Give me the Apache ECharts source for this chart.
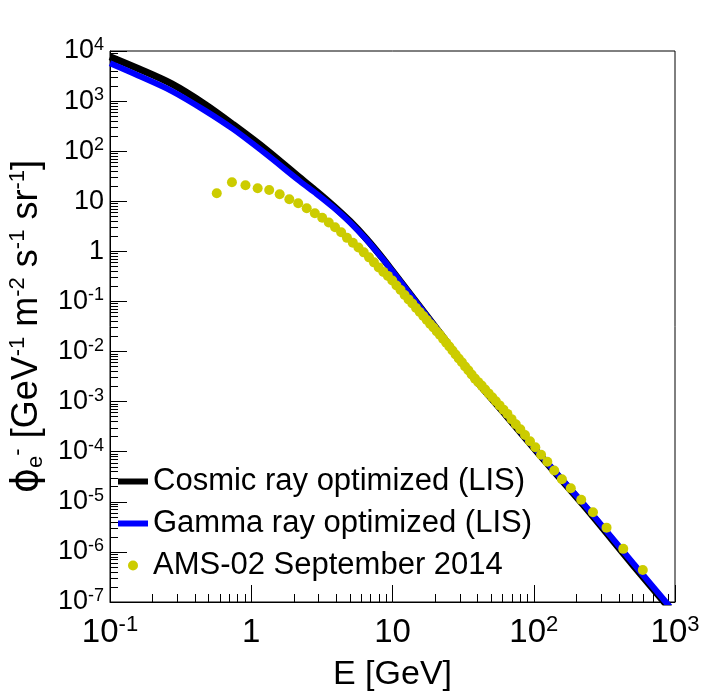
<!DOCTYPE html>
<html>
<head>
<meta charset="utf-8">
<script src="https://cdn.jsdelivr.net/npm/echarts@6/dist/echarts.min.js"></script>
<style>
  html, body { margin: 0; padding: 0; background: #fff; }
  #chart { width: 716px; height: 692px; }
</style>
</head>
<body>
<div id="chart"></div>
<script>
// model curves, energies in GeV
const lineEnergy = [0.1, 0.158, 0.274, 0.471, 0.746, 1.29, 2.21, 2.90, 3.81, 5.0, 6.56, 8.61,
    10.0, 21.7, 37.3, 64.4, 110.7, 224, 507, 873, 1000];
const cosmicFlux = [7690, 4470, 2200, 860, 339, 105, 29.5, 15.8, 8.13, 3.98, 1.76, 0.70,
    0.403, 0.0232, 3.09e-3, 5.13e-4, 8.51e-5, 8.71e-6, 5.37e-7, 8.71e-8, 5.5e-8];
const gammaFlux = [5675, 3240, 1585, 646, 275, 85.1, 25.1, 14.1, 7.59, 3.80, 1.70, 0.684,
    0.398, 0.0234, 3.16e-3, 5.37e-4, 8.91e-5, 9.33e-6, 5.89e-7, 9.55e-8, 6.03e-8];

// AMS-02 points
const amsEnergy = [0.57, 0.73, 0.91, 1.11, 1.34, 1.59, 1.86, 2.15, 2.47, 2.82, 3.18, 3.54,
    3.92, 4.33, 4.76, 5.24, 5.74, 6.26, 6.82, 7.39, 7.99, 8.62, 9.28, 9.96, 10.67, 11.41,
    12.19, 12.99, 13.82, 14.69, 15.59, 16.52, 17.48, 18.48, 19.51, 20.58, 21.68, 22.83,
    24.01, 25.25, 26.57, 27.96, 29.43, 31.0, 32.66, 34.43, 36.32, 38.34, 40.48, 42.79,
    45.27, 47.93, 50.81, 53.93, 57.33, 61.04, 65.13, 69.64, 74.66, 80.31, 86.71, 94.05,
    102.6, 112.7, 124.8, 139.6, 158.3, 182.9, 216.8, 262.6, 327.6, 430.1, 591.6];
const amsFlux = [14.5, 24.0, 20.9, 18.2, 16.8, 13.8, 11.0, 9.12, 7.24, 5.75, 4.68, 3.76,
    3.02, 2.40, 1.86, 1.48, 1.19, 0.955, 0.759, 0.603, 0.479, 0.389, 0.324, 0.263, 0.209, 0.170,
    0.135, 0.110, 0.0912, 0.0741, 0.0617, 0.0513, 0.0427, 0.0355, 0.0302, 0.0251, 0.0214, 0.0178,
    0.0150, 0.0126, 0.0105, 8.71e-3, 7.24e-3, 6.10e-3, 5.01e-3, 4.22e-3, 3.47e-3, 2.88e-3, 2.45e-3, 2.09e-3,
    1.74e-3, 1.46e-3, 1.22e-3, 1.02e-3, 8.41e-4, 6.92e-4, 5.69e-4, 4.47e-4, 3.55e-4, 2.82e-4, 2.16e-4, 1.62e-4,
    1.23e-4, 8.71e-5, 6.31e-5, 4.22e-5, 2.82e-5, 1.86e-5, 1.10e-5, 6.17e-6, 3.05e-6, 1.15e-6, 4.37e-7];

// tick positions (decades)
const xTicks = [0.1, 1, 10, 100, 1000];
const yTicks = [1e-7, 1e-6, 1e-5, 1e-4, 1e-3, 1e-2, 1e-1, 1, 10, 100, 1000, 10000];

const seriesNames = ['Cosmic ray optimized (LIS)', 'Gamma ray optimized (LIS)', 'AMS-02 September 2014'];

const FONT = 'Liberation Sans, Arial, Helvetica, sans-serif';

function minorTicks(decades) {
    let out = [];
    for (let i = 0; i < decades.length - 1; i++) {
        for (let k = 2; k <= 9; k++) out.push(k * decades[i]);
    }
    return out;
}

function powLabel(v) {
    let n = Math.round(Math.log10(v));
    if (n === 0) return '1';
    if (n === 1) return '10';
    return '10{sup|' + n + '}';
}

function pairs(xs, ys) {
    return xs.map((x, i) => [x, ys[i]]);
}

let xMain = {
    type: 'log', logBase: 10, min: 0.1, max: 1000, gridIndex: 0,
    axisLine: { lineStyle: { color: '#000', width: 1 } },
    axisTick: { inside: true, length: 17, customValues: xTicks, lineStyle: { color: '#000' } },
    axisLabel: {
        customValues: xTicks, formatter: powLabel, margin: 12,
        color: '#000', fontFamily: FONT, fontSize: 33, lineHeight: 37,
        rich: { sup: { fontSize: 22, fontFamily: FONT, color: '#000', verticalAlign: 'top', lineHeight: 22 } }
    },
    splitLine: { show: false },
    name: 'E [GeV]', nameLocation: 'middle', nameGap: 56,
    nameTextStyle: { color: '#000', fontFamily: FONT, fontSize: 34 }
};

let yMain = {
    type: 'log', logBase: 10, min: 1e-7, max: 1e4, gridIndex: 0,
    axisLine: { lineStyle: { color: '#000', width: 1 } },
    axisTick: { inside: true, length: 17, customValues: yTicks, lineStyle: { color: '#000' } },
    axisLabel: {
        customValues: yTicks, formatter: powLabel, margin: 6,
        color: '#000', fontFamily: FONT, fontSize: 27, lineHeight: 30,
        rich: { sup: { fontSize: 18, fontFamily: FONT, color: '#000', verticalAlign: 'top', lineHeight: 18 } }
    },
    splitLine: { show: false },
    name: '{phi|\u03D5}{sub|e}{sup|-} [GeV{sup|-1} m{sup|-2} s{sup|-1} sr{sup|-1}]',
    nameLocation: 'middle', nameGap: 60, nameRotate: 90,
    nameTextStyle: {
        color: '#000', fontFamily: FONT, fontSize: 36, lineHeight: 40,
        rich: {
            phi: { fontSize: 38, fontFamily: 'DejaVu Sans, sans-serif', color: '#000' },
            sup: { fontSize: 22, fontFamily: FONT, color: '#000', verticalAlign: 'top', lineHeight: 22 },
            sub: { fontSize: 22, fontFamily: FONT, color: '#000', verticalAlign: 'bottom', lineHeight: 22 }
        }
    }
};

// second axes only carry the log minor ticks
let xMinor = {
    type: 'log', logBase: 10, min: 0.1, max: 1000, gridIndex: 0, position: 'bottom',
    axisLine: { show: false }, axisLabel: { show: false }, splitLine: { show: false },
    axisTick: { inside: true, length: 8, customValues: minorTicks(xTicks), lineStyle: { color: '#000' } }
};
let yMinor = {
    type: 'log', logBase: 10, min: 1e-7, max: 1e4, gridIndex: 0, position: 'left',
    axisLine: { show: false }, axisLabel: { show: false }, splitLine: { show: false },
    axisTick: { inside: true, length: 8, customValues: minorTicks(yTicks), lineStyle: { color: '#000' } }
};

let option = {
    animation: false,
    backgroundColor: '#fff',
    grid: {
        left: 110, right: 41, top: 51, bottom: 90, containLabel: false, outerBoundsMode: 'none',
        show: true, borderColor: '#000', borderWidth: 1, backgroundColor: 'transparent'
    },
    xAxis: [xMain, xMinor],
    yAxis: [yMain, yMinor],
    legend: {
        orient: 'vertical', left: 118, top: 465, padding: 0,
        itemWidth: 30, itemHeight: 10, itemGap: 9,
        textStyle: { color: '#000', fontFamily: FONT, fontSize: 31, lineHeight: 33 },
        data: [
            { name: seriesNames[0], icon: 'path://M0,0H30V6H0Z' },
            { name: seriesNames[1], icon: 'path://M0,0H30V6H0Z' },
            { name: seriesNames[2], icon: 'circle' }
        ]
    },
    series: [
        {
            name: seriesNames[0], type: 'line', data: pairs(lineEnergy, cosmicFlux),
            showSymbol: false, smooth: 0.3, color: '#000',
            lineStyle: { color: '#000', width: 7 }, itemStyle: { color: '#000' }, z: 2
        },
        {
            name: seriesNames[1], type: 'line', data: pairs(lineEnergy, gammaFlux),
            showSymbol: false, smooth: 0.3, color: '#0000ff',
            lineStyle: { color: '#0000ff', width: 6 }, itemStyle: { color: '#0000ff' }, z: 3
        },
        {
            name: seriesNames[2], type: 'scatter', data: pairs(amsEnergy, amsFlux),
            symbol: 'circle', symbolSize: 10, color: '#cccc00',
            itemStyle: { color: '#cccc00', opacity: 1 }, z: 4
        }
    ]
};

let myChart = echarts.init(document.getElementById('chart'));
myChart.setOption(option);
</script>
</body>
</html>
